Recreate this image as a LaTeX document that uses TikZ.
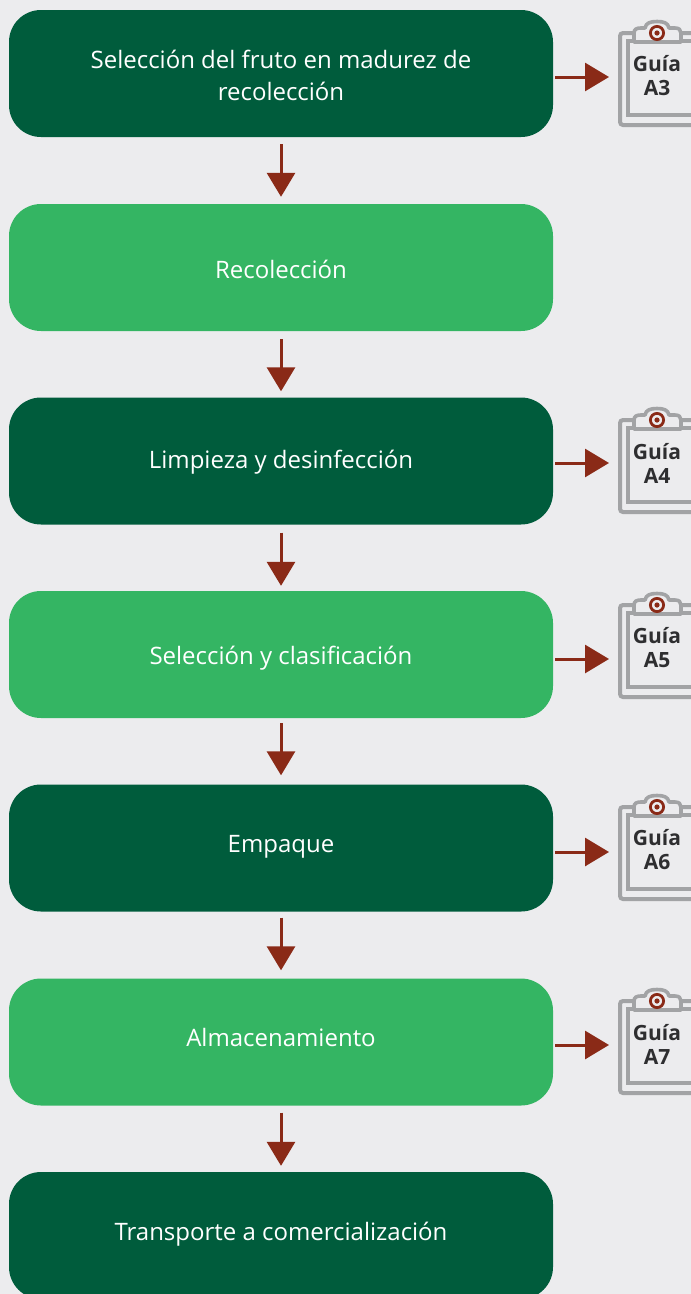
\documentclass[tikz,border=0pt]{standalone}
\usepackage{fontspec}
\setmainfont{Open Sans}
\usetikzlibrary{arrows.meta}
\definecolor{bgc}{HTML}{ECECEE}
\definecolor{darkg}{HTML}{005C3C}
\definecolor{lightg}{HTML}{34B563}
\definecolor{arrowc}{HTML}{8A2A17}
\definecolor{clipc}{HTML}{A2A3A5}
\definecolor{clipt}{HTML}{2E2E30}
\tikzset{
  flowbox/.style={minimum width=544pt,minimum height=127pt,rounded corners=32pt,inner sep=0pt},
  darkbox/.style={flowbox,fill=darkg},
  lightbox/.style={flowbox,fill=lightg},
  boxtext/.style={text=white,align=center,inner sep=0pt,font=\fontsize{24}{32}\selectfont},
  flowarrow/.style={arrowc,line width=3pt,-{Triangle[length=24pt,width=28pt,sep=0pt]}},
  clipline/.style={draw=clipc,line width=4pt,rounded corners=3pt},
  cliplabel/.style={text=clipt,align=center,inner sep=0pt,font=\fontsize{21}{24}\selectfont\bfseries}
}
\newcommand{\clipboardicon}[3]{%
  \begin{scope}[shift={(0,#2)}]
    \draw[clipline,fill=bgc] (700,33) -- (620,33) -- (620,125) -- (700,125);
    \draw[draw=clipc,line width=3.2pt] (700,41) -- (628,41) -- (628,115) -- (700,115);
    \draw[draw=clipc,line width=3.6pt,fill=bgc,line join=round]
      (634,42) -- (634,33) .. controls (634,29) and (637,28) .. (641,28)
      -- (645,28) .. controls (646,23) and (650,21.5) .. (657,21.5)
      .. controls (664,21.5) and (668,23) .. (669,28) -- (675,28)
      .. controls (679,28) and (681,30) .. (681,33) -- (681,42) -- cycle;
    \draw[arrowc,line width=2.8pt] (657,33) circle (6.6pt);
    \fill[arrowc] (657,33) circle (2.6pt);
    \node[cliplabel] (#1) at (657,76) {Guía\\#3};
  \end{scope}}
\begin{document}
\begin{tikzpicture}[x=1pt,y=-1pt]
  \clip (0,0) rectangle (691,1294);
  \fill[bgc] (0,0) rectangle (691,1294);
  \node[darkbox]  (b1) at (281,73.5)  {};
  \node[lightbox] (b2) at (281,267.5) {};
  \node[darkbox]  (b3) at (281,461)   {};
  \node[lightbox] (b4) at (281,654.5) {};
  \node[darkbox]  (b5) at (281,848)   {};
  \node[lightbox] (b6) at (281,1042)  {};
  \node[darkbox]  (b7) at (281,1235.5){};
  \node[boxtext] (l1) at ([yshift=-1.5pt]b1.center) {Selección del fruto en madurez de\\recolección};
  \node[boxtext] (l2) at ([yshift=-2pt]b2.center) {Recolección};
  \node[boxtext] (l3) at ([yshift=-1pt]b3.center) {Limpieza y desinfección};
  \node[boxtext] (l4) at ([yshift=-4pt]b4.center) {Selección y clasificación};
  \node[boxtext] (l5) at ([yshift=1pt]b5.center) {Empaque};
  \node[boxtext] (l6) at ([yshift=5pt]b6.center) {Almacenamiento};
  \node[boxtext] (l7) at ([yshift=1pt]b7.center) {Transporte a comercialización};
  \foreach \a/\b/\s/\e in {b1/b2/7/7,b2/b3/8/6,b3/b4/8/5,b4/b5/5/9,b5/b6/6/8,b6/b7/7/6}
    \draw[flowarrow,shorten <=\s pt,shorten >=\e pt] (\a.south) -- (\b.north);
  \clipboardicon{g3}{0}{A3}
  \clipboardicon{g4}{387}{A4}
  \clipboardicon{g5}{572}{A5}
  \clipboardicon{g6}{774}{A6}
  \clipboardicon{g7}{968}{A7}
  \coordinate (t3) at (609,77);
  \coordinate (t4) at (609,463);
  \coordinate (t5) at (609,659);
  \coordinate (t6) at (609,852);
  \coordinate (t7) at (609,1045);
  \draw[flowarrow,shorten <=2pt] (b1.east |- t3) -- (t3);
  \draw[flowarrow,shorten <=2pt] (b3.east |- t4) -- (t4);
  \draw[flowarrow,shorten <=2pt] (b4.east |- t5) -- (t5);
  \draw[flowarrow,shorten <=2pt] (b5.east |- t6) -- (t6);
  \draw[flowarrow,shorten <=2pt] (b6.east |- t7) -- (t7);
\end{tikzpicture}
\end{document}
